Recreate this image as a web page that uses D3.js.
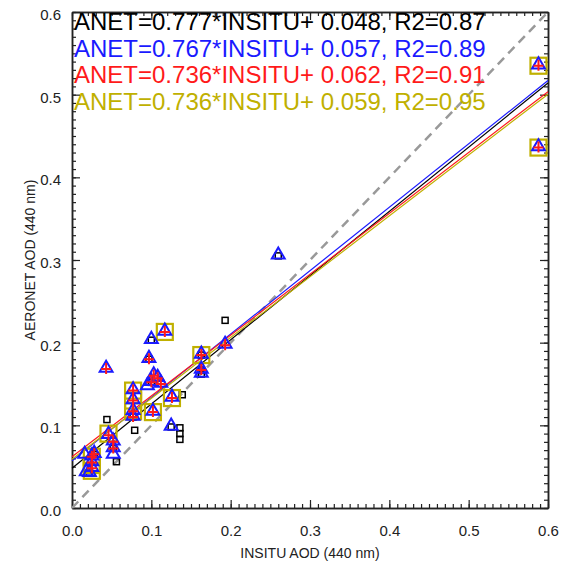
<!DOCTYPE html>
<html>
<head>
<meta charset="utf-8">
<script src="https://cdn.jsdelivr.net/npm/d3@7"></script>
<style>
  body { margin: 0; background: #fff; }
  text { font-family: "Liberation Sans", Arial, sans-serif; }
</style>
</head>
<body>
<script>
// points, [insitu, aeronet]
const blackPts = [
  [0.260, 0.305], [0.193, 0.227], [0.163, 0.185], [0.163, 0.167], [0.163, 0.162],
  [0.100, 0.203], [0.097, 0.180], [0.100, 0.152], [0.139, 0.137], [0.077, 0.110],
  [0.079, 0.094], [0.125, 0.098], [0.136, 0.097], [0.136, 0.090], [0.136, 0.083],
  [0.044, 0.107], [0.052, 0.072], [0.056, 0.056], [0.022, 0.042], [0.028, 0.065]
]
const bluePts = [
  [0.588, 0.535], [0.588, 0.436], [0.260, 0.305], [0.193, 0.197], [0.163, 0.185],
  [0.163, 0.167], [0.163, 0.162], [0.117, 0.213], [0.100, 0.203], [0.097, 0.180],
  [0.043, 0.168], [0.103, 0.160], [0.108, 0.157], [0.100, 0.152], [0.112, 0.150],
  [0.095, 0.147], [0.126, 0.133], [0.077, 0.142], [0.077, 0.130], [0.077, 0.117],
  [0.077, 0.110], [0.102, 0.116], [0.125, 0.098], [0.046, 0.088], [0.052, 0.080],
  [0.052, 0.072], [0.052, 0.064], [0.025, 0.062], [0.025, 0.055], [0.025, 0.048],
  [0.022, 0.042], [0.028, 0.065], [0.016, 0.064], [0.018, 0.043]
]
const redPts = [
  [0.588, 0.535], [0.588, 0.436], [0.193, 0.197], [0.163, 0.185], [0.163, 0.167],
  [0.117, 0.213], [0.097, 0.180], [0.043, 0.168], [0.103, 0.160], [0.108, 0.157],
  [0.100, 0.152], [0.112, 0.150], [0.126, 0.133], [0.077, 0.142], [0.077, 0.130],
  [0.077, 0.117], [0.077, 0.110], [0.102, 0.116], [0.046, 0.088], [0.052, 0.080],
  [0.052, 0.072], [0.025, 0.062], [0.025, 0.055], [0.025, 0.048], [0.028, 0.065]
]
const yellowPts = [
  [0.588, 0.535], [0.588, 0.436], [0.163, 0.185], [0.117, 0.213], [0.126, 0.133],
  [0.077, 0.142], [0.077, 0.130], [0.077, 0.117], [0.102, 0.116], [0.046, 0.090],
  [0.025, 0.062], [0.025, 0.052], [0.025, 0.045]
]

// regression fits
const fitNames = ["black", "blue", "red", "yellow"]
const fitSlopes = [0.777, 0.767, 0.736, 0.736]
const fitOffsets = [0.048, 0.057, 0.062, 0.059]
const fitR2 = ["0.87", "0.89", "0.91", "0.95"]
const colors = { black: "#000000", blue: "#1a1aff", red: "#ff1a1a", yellow: "#c0b000" }

const xTicks = [0, 0.1, 0.2, 0.3, 0.4, 0.5, 0.6]
const yTicks = [0, 0.1, 0.2, 0.3, 0.4, 0.5, 0.6]

let margin = { top: 12, right: 19, bottom: 63, left: 72 },
    width = 567 - margin.left - margin.right,
    height = 571 - margin.top - margin.bottom;

let svg = d3.select("body")
    .append("svg")
    .attr("width", 567)
    .attr("height", 571)
    .append("g")
    .attr("transform", "translate(" + margin.left + "," + margin.top + ")");

let x = d3.scaleLinear().domain([0, 0.6]).range([0, width])
let y = d3.scaleLinear().domain([0, 0.6]).range([height, 0])

// frame with inward ticks on all sides
const minor = d3.range(0, 0.6001, 0.01)
const axisCol = "#222"
function tickSide(axisFn, scale, tr, len, majors, showLabels) {
    let g = svg.append("g").attr("transform", tr)
    g.call(axisFn(scale).tickValues(minor).tickSize(len / 2).tickSizeOuter(0).tickFormat(""))
    let g2 = svg.append("g").attr("transform", tr)
    g2.call(axisFn(scale).tickValues(majors).tickSize(len).tickSizeOuter(0)
        .tickFormat(showLabels ? d3.format(".1f") : ""))
    ;[g, g2].forEach(a => {
        a.select(".domain").attr("stroke", axisCol).attr("stroke-width", 1.5)
        a.selectAll(".tick line").attr("stroke", axisCol).attr("stroke-width", 1.2)
    })
    return g2
}
// bottom (ticks pointing up)
let bx = tickSide(d3.axisTop, x, "translate(0," + height + ")", 8, xTicks, true)
bx.selectAll(".tick text").attr("y", 28).attr("dy", 0)
    .style("font-size", "15px").attr("fill", "#222")
tickSide(d3.axisBottom, x, "translate(0,0)", 8, xTicks, false)
let ly = tickSide(d3.axisRight, y, "translate(0,0)", 8, yTicks, true)
ly.selectAll(".tick text").attr("x", -11).attr("dy", "0.5em")
    .attr("text-anchor", "end").style("font-size", "15px").attr("fill", "#222")
tickSide(d3.axisLeft, y, "translate(" + width + ",0)", 8, yTicks, false)

// 1:1 line
svg.append("line")
    .attr("x1", x(0)).attr("y1", y(0)).attr("x2", x(0.6)).attr("y2", y(0.6))
    .attr("stroke", "#999").attr("stroke-width", 2.5).attr("stroke-dasharray", "9,6")

// fit lines
fitNames.forEach((n, i) => {
    svg.append("line")
        .attr("x1", x(0)).attr("y1", y(fitOffsets[i]))
        .attr("x2", x(0.6)).attr("y2", y(fitSlopes[i] * 0.6 + fitOffsets[i]))
        .attr("stroke", colors[n]).attr("stroke-width", 1.2)
})

// markers
svg.append("g").selectAll("rect").data(blackPts).enter().append("rect")
    .attr("x", d => x(d[0]) - 3).attr("y", d => y(d[1]) - 3)
    .attr("width", 6).attr("height", 6)
    .attr("fill", "none").attr("stroke", "#000").attr("stroke-width", 1.5)

svg.append("g").selectAll("rect").data(yellowPts).enter().append("rect")
    .attr("x", d => x(d[0]) - 8).attr("y", d => y(d[1]) - 8)
    .attr("width", 16).attr("height", 16)
    .attr("fill", "none").attr("stroke", colors.yellow).attr("stroke-width", 2.2)

let tri = d3.symbol().type(d3.symbolTriangle).size(72)
svg.append("g").selectAll("path").data(bluePts).enter().append("path")
    .attr("d", tri)
    .attr("transform", d => "translate(" + x(d[0]) + "," + (y(d[1]) - 1) + ")")
    .attr("fill", "none").attr("stroke", colors.blue).attr("stroke-width", 2)

svg.append("g").selectAll("path").data(redPts).enter().append("path")
    .attr("d", d => {
        let cx = x(d[0]), cy = y(d[1])
        return "M" + (cx - 5) + "," + cy + "H" + (cx + 5) + "M" + cx + "," + (cy - 6) + "V" + (cy + 5)
    })
    .attr("stroke", colors.red).attr("stroke-width", 2)

// equations
fitNames.forEach((n, i) => {
    svg.append("text")
        .attr("x", 2).attr("y", 18 + i * 26.5)
        .attr("fill", colors[n])
        .style("font-size", "24px")
        .text("ANET=" + fitSlopes[i].toFixed(3) + "*INSITU+ " + fitOffsets[i].toFixed(3) + ", R2=" + fitR2[i])
})

// axis titles
svg.append("text")
    .attr("x", width / 2).attr("y", height + 50)
    .attr("text-anchor", "middle").style("font-size", "14px").attr("fill", "#222")
    .text("INSITU AOD (440 nm)")
svg.append("text")
    .attr("transform", "translate(" + (-37) + "," + (height / 2) + ") rotate(-90)")
    .attr("text-anchor", "middle").style("font-size", "14px").attr("fill", "#222")
    .text("AERONET AOD (440 nm)")
</script>
</body>
</html>
